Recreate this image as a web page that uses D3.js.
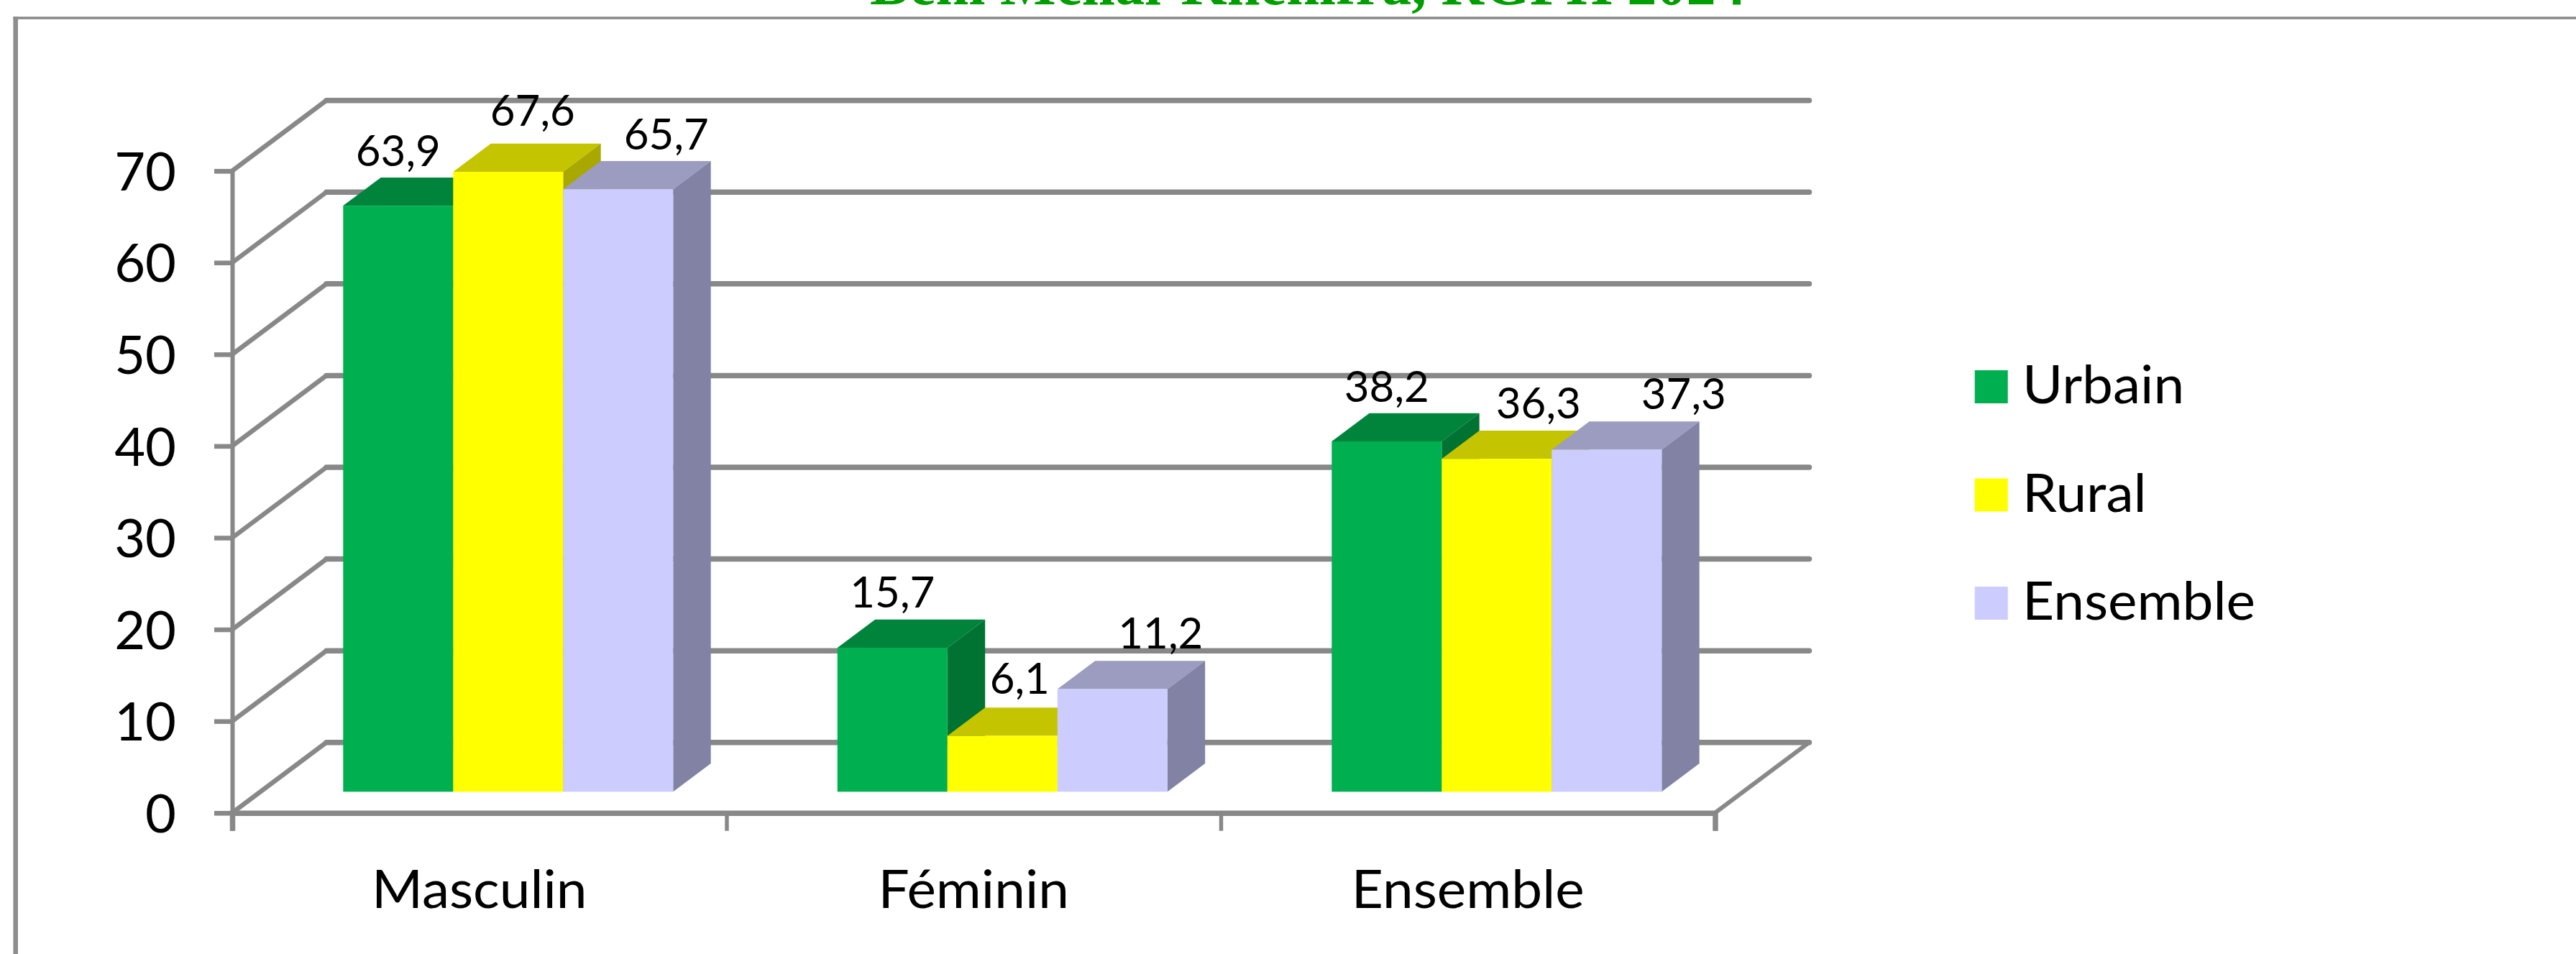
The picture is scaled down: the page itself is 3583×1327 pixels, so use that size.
<!DOCTYPE html>
<html><head><meta charset="utf-8">
<script src="https://cdn.jsdelivr.net/npm/d3@7"></script>
<style>
html,body{margin:0;padding:0;background:#fff;overflow:hidden}
svg{display:block}
text{font-family:Lato,"Open Sans",sans-serif;fill:#000}
</style></head><body><svg id="c" width="3583" height="1327"></svg>
<script>
// ---- data ----
const categories = ["Masculin", "Féminin", "Ensemble"];
const seriesNames = ["Urbain", "Rural", "Ensemble"];
const urbain = [63.9, 15.7, 38.2];
const rural = [67.6, 6.1, 36.3];
const ensemble = [65.7, 11.2, 37.3];
const yTicks = [0, 10, 20, 30, 40, 50, 60, 70];
const titleText = "Beni Mellal-Khenifra, RGPH 2024";
// hand-placed label nudges of the source (px, per series then category)
const labelDx = [[0, 0, 0], [34, 24, 58], [67, 67, 107]];
const labelLift = [[55, 56, 55], [64, 58, 56], [55, 56, 56]];

// ---- style ----
const front = ["#00B050", "#FFFF00", "#CCCCFF"];
const topFace = ["#00843C", "#C4C400", "#9C9CC0"];
const sideFace = ["#007332", "#A8A800", "#8282A4"];
const gray = "#888888";

const values = [urbain, rural, ensemble];
const svg = d3.select("#c");

// widen Lato a little to the proportions of the source's face
function stretch(sel, k) {
  sel.each(function () {
    d3.select(this).attr("textLength", this.getComputedTextLength() * k)
      .attr("lengthAdjust", "spacingAndGlyphs");
  });
}

const x = d3.scaleBand().domain(categories).range([323, 2385.5]);
const xEdge = d3.scaleLinear().domain([0, categories.length]).range([323, 2385.5]);
const y = d3.scaleLinear().domain([0, 70]).range([1130.7, 237.7]);
const depthX = d3.scaleLinear().domain([0, 1]).range([0, 131]);
const depthY = d3.scaleLinear().domain([0, 1]).range([0, -98]);
const barFront = 0.3, barBack = 0.7;
const sub = d3.scaleBand().domain(d3.range(3)).range([115, 115 + 459]);

// frame
svg.append("line").attr("x1", 18.5).attr("x2", 3583).attr("y1", 25).attr("y2", 25)
  .attr("stroke", gray).attr("stroke-width", 3.6);
svg.append("line").attr("x1", 21.7).attr("x2", 21.7).attr("y1", 23).attr("y2", 1327)
  .attr("stroke", "#8e8e8e").attr("stroke-width", 6.6);

// title (cut by the top of the picture in the source)
svg.append("text").attr("x", 1210).attr("y", 6)
  .attr("textLength", 1218).attr("lengthAdjust", "spacingAndGlyphs")
  .style("font-family", "'Liberation Serif',serif").style("font-weight", "bold")
  .style("font-size", "86px").style("fill", "#009E00").text(titleText);

// walls
const walls = svg.append("g").attr("fill", "none").attr("stroke", gray);
yTicks.forEach(t => {
  const x0 = x.range()[0], yy = y(t);
  walls.append("line").attr("x1", x0 + depthX(1)).attr("x2", x.range()[1] + depthX(1))
    .attr("y1", yy + depthY(1)).attr("y2", yy + depthY(1))
    .attr("stroke-width", 7.5).attr("stroke-linecap", "round");
  walls.append("line").attr("x1", x0).attr("x2", x0 + depthX(1))
    .attr("y1", yy).attr("y2", yy + depthY(1)).attr("stroke-width", 6.5);
});
walls.append("line").attr("x1", x.range()[1]).attr("x2", x.range()[1] + depthX(1))
  .attr("y1", y(0)).attr("y2", y(0) + depthY(1)).attr("stroke-width", 6);

// axes
const yAxis = d3.axisLeft(y).tickValues(yTicks).tickSize(25).tickPadding(53);
const gy = svg.append("g").attr("transform", `translate(${x.range()[0]},0)`).call(yAxis);
gy.select(".domain").attr("stroke", gray).attr("stroke-width", 6);
gy.selectAll(".tick line").attr("stroke", gray).attr("stroke-width", 6.5);
gy.selectAll(".tick text").attr("dy", "0.36em").style("font-family", "Lato").style("font-size", "74px").style("fill", "#000");

const edgeAxis = d3.axisBottom(xEdge).tickValues(d3.range(categories.length + 1)).tickSize(25).tickFormat("");
const ge = svg.append("g").attr("transform", `translate(0,${y(0)})`).call(edgeAxis);
ge.select(".domain").attr("stroke", gray).attr("stroke-width", 7.5);
ge.selectAll(".tick line").attr("stroke", gray).attr("stroke-width", 5.5);

const catAxis = d3.axisBottom(x).tickSize(0).tickPadding(0);
const gx = svg.append("g").attr("transform", `translate(0,${y(0)})`).call(catAxis);
gx.select(".domain").remove();
gx.selectAll(".tick text").attr("y", 132).attr("dy", 0).style("font-family", "Lato").style("font-size", "74px").style("fill", "#000")
  .call(stretch, 1.035);

// bars
const line = d3.line();
const bars = svg.append("g");
categories.forEach((c, ci) => {
  seriesNames.forEach((s, si) => {
    const v = values[si][ci];
    const xl = x(c) + depthX(barFront) + sub(si);
    const xr = xl + sub.bandwidth();
    const yb = y(0) + depthY(barFront);
    const yt = y(v) + depthY(barFront);
    const ddx = depthX(barBack) - depthX(barFront);
    const ddy = depthY(barBack) - depthY(barFront);
    bars.append("path").attr("fill", topFace[si])
      .attr("d", line([[xl, yt], [xl + ddx, yt + ddy], [xr + ddx, yt + ddy], [xr, yt]]) + "Z");
    bars.append("path").attr("fill", sideFace[si])
      .attr("d", line([[xr, yt], [xr + ddx, yt + ddy], [xr + ddx, yb + ddy], [xr, yb]]) + "Z");
    bars.append("rect").attr("x", xl).attr("y", yt).attr("width", xr - xl).attr("height", yb - yt)
      .attr("fill", front[si]);
  });
});

// value labels
const fmt = v => String(v.toFixed(1)).replace(".", ",");
categories.forEach((c, ci) => {
  seriesNames.forEach((s, si) => {
    const v = values[si][ci];
    svg.append("text")
      .attr("x", x(c) + depthX(barFront) + sub(si) + sub.bandwidth() / 2 + labelDx[si][ci])
      .attr("y", y(v) + depthY(barFront) - labelLift[si][ci])
      .attr("text-anchor", "middle").style("font-size", "60px").text(fmt(v));
  });
});

// legend
const legY = d3.scalePoint().domain(seriesNames.map((s, i) => i)).range([515, 816]);
seriesNames.forEach((s, i) => {
  svg.append("rect").attr("x", 2746.7).attr("y", legY(i)).attr("width", 46).attr("height", 46).attr("fill", front[i]);
  svg.append("text").attr("x", 2813).attr("y", legY(i) + 46).style("font-size", "74px").text(s).call(stretch, 1.035);
});
</script></body></html>
